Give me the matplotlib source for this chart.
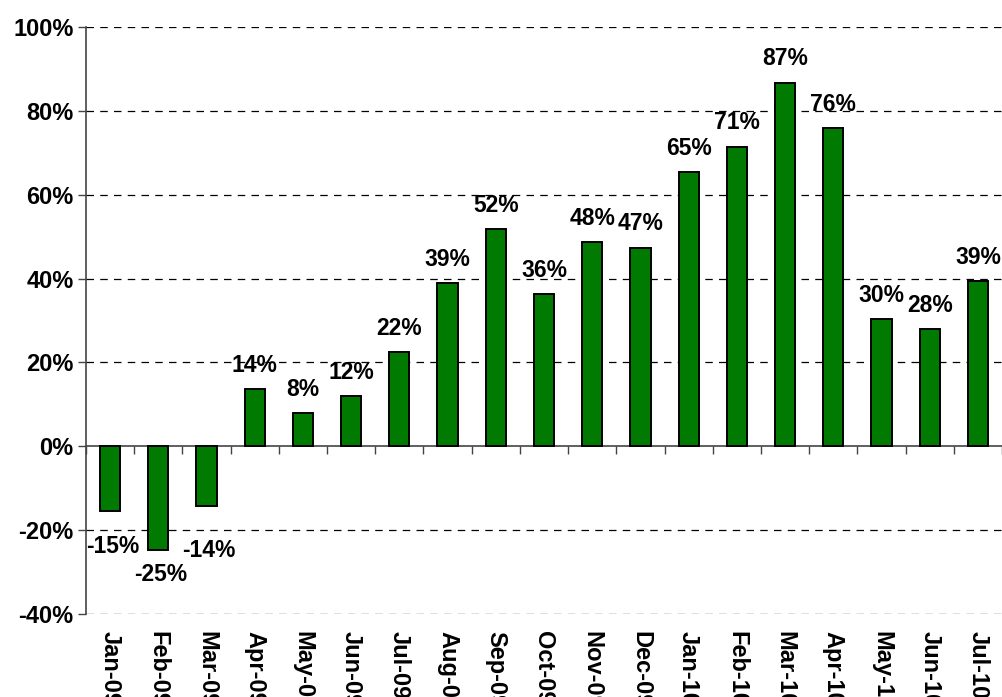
import matplotlib
matplotlib.use("Agg")
import matplotlib.pyplot as plt
import numpy as np

months = ["Jan-09", "Feb-09", "Mar-09", "Apr-09", "May-09", "Jun-09", "Jul-09",
          "Aug-09", "Sep-09", "Oct-09", "Nov-09", "Dec-09", "Jan-10", "Feb-10",
          "Mar-10", "Apr-10", "May-10", "Jun-10", "Jul-10"]
values = [-15.4, -24.7, -14.2, 13.6, 7.9, 11.9, 22.4, 38.9, 51.8, 36.3, 48.7,
          47.3, 65.4, 71.4, 86.7, 75.8, 30.3, 27.9, 39.4]
labels = ["-15%", "-25%", "-14%", "14%", "8%", "12%", "22%", "39%", "52%", "36%",
          "48%", "47%", "65%", "71%", "87%", "76%", "30%", "28%", "39%"]
yticks = [-40, -20, 0, 20, 40, 60, 80, 100]

plt.rcParams['font.family'] = ['Liberation Sans', 'DejaVu Sans']
fig = plt.figure(figsize=(10.02, 6.97), dpi=100)
ymin, ymax = -40, 100
ax = fig.add_axes([86/1002, 1 - 614/697, 1 - 86/1002, (614 - 27)/697])

x = np.arange(len(months))
ax.bar(x, values, width=0.42, color='#007a00', edgecolor='black', linewidth=1.4, zorder=3)

ax.set_xlim(-0.5, len(months) - 0.5)
ax.set_ylim(ymin, ymax)
ax.set_yticks(yticks)
ax.set_yticklabels([f"{v}%" for v in yticks], fontsize=17, fontweight='bold')
ax.tick_params(axis='y', length=6, width=1, color='#444444', pad=3)
for v in yticks:
    if v != 0:
        ax.axhline(v, color='black', linestyle=(0, (6, 5)), linewidth=0.9, zorder=1)

ax.set_xticks(x)
ax.set_xticklabels(months, rotation=270, fontsize=17, fontweight='bold', va='top', ha='center')
ax.tick_params(axis='x', length=0, pad=12)

for s in ['top', 'right', 'bottom']:
    ax.spines[s].set_visible(False)
ax.spines['left'].set_color('#444444')
ax.spines['left'].set_linewidth(1.2)

# zero axis line with category boundary ticks
loc = (0 - ymin) / (ymax - ymin)
sec = ax.secondary_xaxis(loc)
sec.set_xticks(np.arange(len(months) + 1) - 0.5)
sec.set_xticklabels([])
sec.tick_params(axis='x', length=6, width=1, color='#444444')
sec.spines['bottom'].set_color('#444444')
sec.spines['bottom'].set_linewidth(1.2)

neg_offsets = {0: 26, 1: 18, 2: 32}
for i, (v, lab) in enumerate(zip(values, labels)):
    if v >= 0:
        ax.annotate(lab, (i, v), xytext=(0, 9), textcoords='offset points',
                    ha='center', va='bottom', fontsize=16.5, fontweight='bold', zorder=4)
    else:
        ax.annotate(lab, (i, v), xytext=(2, -neg_offsets.get(i, 18)), textcoords='offset points',
                    ha='center', va='center', fontsize=16.5, fontweight='bold', zorder=4)

fig.savefig("out.png", dpi=100)
